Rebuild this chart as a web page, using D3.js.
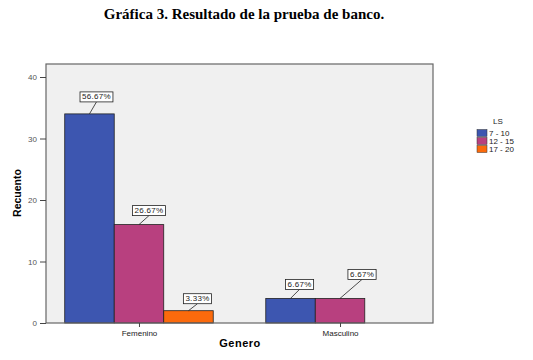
<!DOCTYPE html>
<html>
<head>
<meta charset="utf-8">
<script src="https://cdn.jsdelivr.net/npm/d3@7"></script>
<style>
  body { margin: 0; background: #fff; }
  svg text { font-family: "Liberation Sans", Arial, sans-serif; }
</style>
</head>
<body>
<div class="chart"></div>
<script>
// data
var generos = ["Femenino", "Masculino"];
var grupos = ["7 - 10", "12 - 15", "17 - 20"];
var recuento = {
  "Femenino":  [34, 16, 2],
  "Masculino": [4, 4, null]
};
var yTicks = [0, 10, 20, 30, 40];
var colores = ["#3d56b0", "#b8407f", "#fb6a0c"];

// label box nudges (layout only), per bar
var labelNudge = {
  "Femenino":  [[7, -12], [10, -9], [9, -7]],
  "Masculino": [[9, -9], [22, -19], null]
};

var svgWidth = 533;
var svgHeight = 360;

var plot = { left: 46, right: 433, top: 64, bottom: 323 };

var svg = d3.select(".chart")
  .append("svg")
  .attr("width", svgWidth)
  .attr("height", svgHeight);

var total = d3.sum(generos, g => d3.sum(recuento[g]));

// title
svg.append("text")
  .attr("x", 244)
  .attr("y", 19)
  .attr("text-anchor", "middle")
  .style("font-family", "'Liberation Serif', 'Times New Roman', serif")
  .style("font-weight", "bold")
  .style("font-size", "15px")
  .text("Gráfica 3. Resultado de la prueba de banco.");

// plot background
svg.append("rect")
  .attr("x", plot.left)
  .attr("y", plot.top)
  .attr("width", plot.right - plot.left)
  .attr("height", plot.bottom - plot.top)
  .attr("fill", "#f0f0f0");

var yScale = d3.scaleLinear()
  .domain([0, 40])
  .range([plot.bottom, 77]);

var xScale = d3.scalePoint()
  .domain(generos)
  .range([plot.left, plot.right])
  .padding(0.4625);

var barW = 49.5;
var xInner = d3.scaleBand()
  .domain(grupos)
  .range([-1.5 * barW, 1.5 * barW])
  .padding(0);

// bars
generos.forEach(function (g) {
  recuento[g].forEach(function (v, i) {
    if (v == null) return;
    svg.append("rect")
      .attr("x", xScale(g) + xInner(grupos[i]))
      .attr("y", yScale(v))
      .attr("width", xInner.bandwidth())
      .attr("height", yScale(0) - yScale(v))
      .attr("fill", colores[i])
      .attr("stroke", "#222")
      .attr("stroke-width", 0.8);
  });
});

// frame
svg.append("rect")
  .attr("x", plot.left)
  .attr("y", plot.top)
  .attr("width", plot.right - plot.left)
  .attr("height", plot.bottom - plot.top)
  .attr("fill", "none")
  .attr("stroke", "#666")
  .attr("stroke-width", 1.2);

// y axis
var leftAxis = d3.axisLeft(yScale)
  .tickValues(yTicks)
  .tickSize(6)
  .tickPadding(3);

var yAxisG = svg.append("g")
  .attr("transform", `translate(${plot.left}, 0)`)
  .call(leftAxis);
yAxisG.select(".domain").remove();
yAxisG.selectAll("line").attr("stroke", "#444");
yAxisG.selectAll("text")
  .attr("fill", "#555")
  .style("font-size", "8px")
  .style("font-family", "'Liberation Sans', Arial, sans-serif");

// x axis
var bottomAxis = d3.axisBottom(xScale)
  .tickSize(4)
  .tickPadding(3);

var xAxisG = svg.append("g")
  .attr("transform", `translate(0, ${plot.bottom})`)
  .call(bottomAxis);
xAxisG.select(".domain").remove();
xAxisG.selectAll("line").attr("stroke", "#444");
xAxisG.selectAll("text")
  .attr("fill", "#222")
  .style("font-size", "8px")
  .style("font-family", "'Liberation Sans', Arial, sans-serif");

// value labels
generos.forEach(function (g) {
  recuento[g].forEach(function (v, i) {
    if (v == null) return;
    var cx = xScale(g) + xInner(grupos[i]) + xInner.bandwidth() / 2;
    var top = yScale(v);
    var n = labelNudge[g][i];
    var bx = cx + n[0];
    var by = top + n[1];
    var txt = (v / total * 100).toFixed(2) + "%";

    svg.append("line")
      .attr("x1", cx)
      .attr("y1", top)
      .attr("x2", bx)
      .attr("y2", by)
      .attr("stroke", "#222")
      .attr("stroke-width", 0.8);

    var lab = svg.append("g");
    var box = lab.append("rect")
      .attr("y", by - 10)
      .attr("height", 10)
      .attr("fill", "#fff")
      .attr("stroke", "#222")
      .attr("stroke-width", 0.8);
    var t = lab.append("text")
      .attr("x", bx)
      .attr("y", by - 2.5)
      .attr("text-anchor", "middle")
      .style("font-size", "8px")
      .style("letter-spacing", "0.3px")
      .attr("fill", "#222")
      .text(txt);
    var w = t.node().getComputedTextLength() + 4;
    box.attr("x", bx - w / 2).attr("width", w);
  });
});

// axis titles
svg.append("text")
  .attr("transform", "translate(21, 193) rotate(-90)")
  .attr("text-anchor", "middle")
  .style("font-weight", "bold")
  .style("font-size", "10.5px")
  .text("Recuento");

svg.append("text")
  .attr("x", 240)
  .attr("y", 347)
  .attr("text-anchor", "middle")
  .style("font-weight", "bold")
  .style("font-size", "11px")
  .style("letter-spacing", "0.5px")
  .text("Genero");

// legend
var legend = svg.append("g");
legend.append("text")
  .attr("x", 498)
  .attr("y", 124)
  .attr("text-anchor", "middle")
  .style("font-size", "8px")
  .attr("fill", "#222")
  .text("LS");

var legendY = d3.scalePoint()
  .domain(grupos)
  .range([133, 149]);

grupos.forEach(function (s, i) {
  legend.append("rect")
    .attr("x", 477)
    .attr("y", legendY(s) - 3.5)
    .attr("width", 10)
    .attr("height", 7)
    .attr("fill", colores[i])
    .attr("stroke", "#333")
    .attr("stroke-width", 0.5);
  legend.append("text")
    .attr("x", 489)
    .attr("y", legendY(s) + 3)
    .style("font-size", "8px")
    .attr("fill", "#222")
    .text(s);
});
</script>
</body>
</html>
